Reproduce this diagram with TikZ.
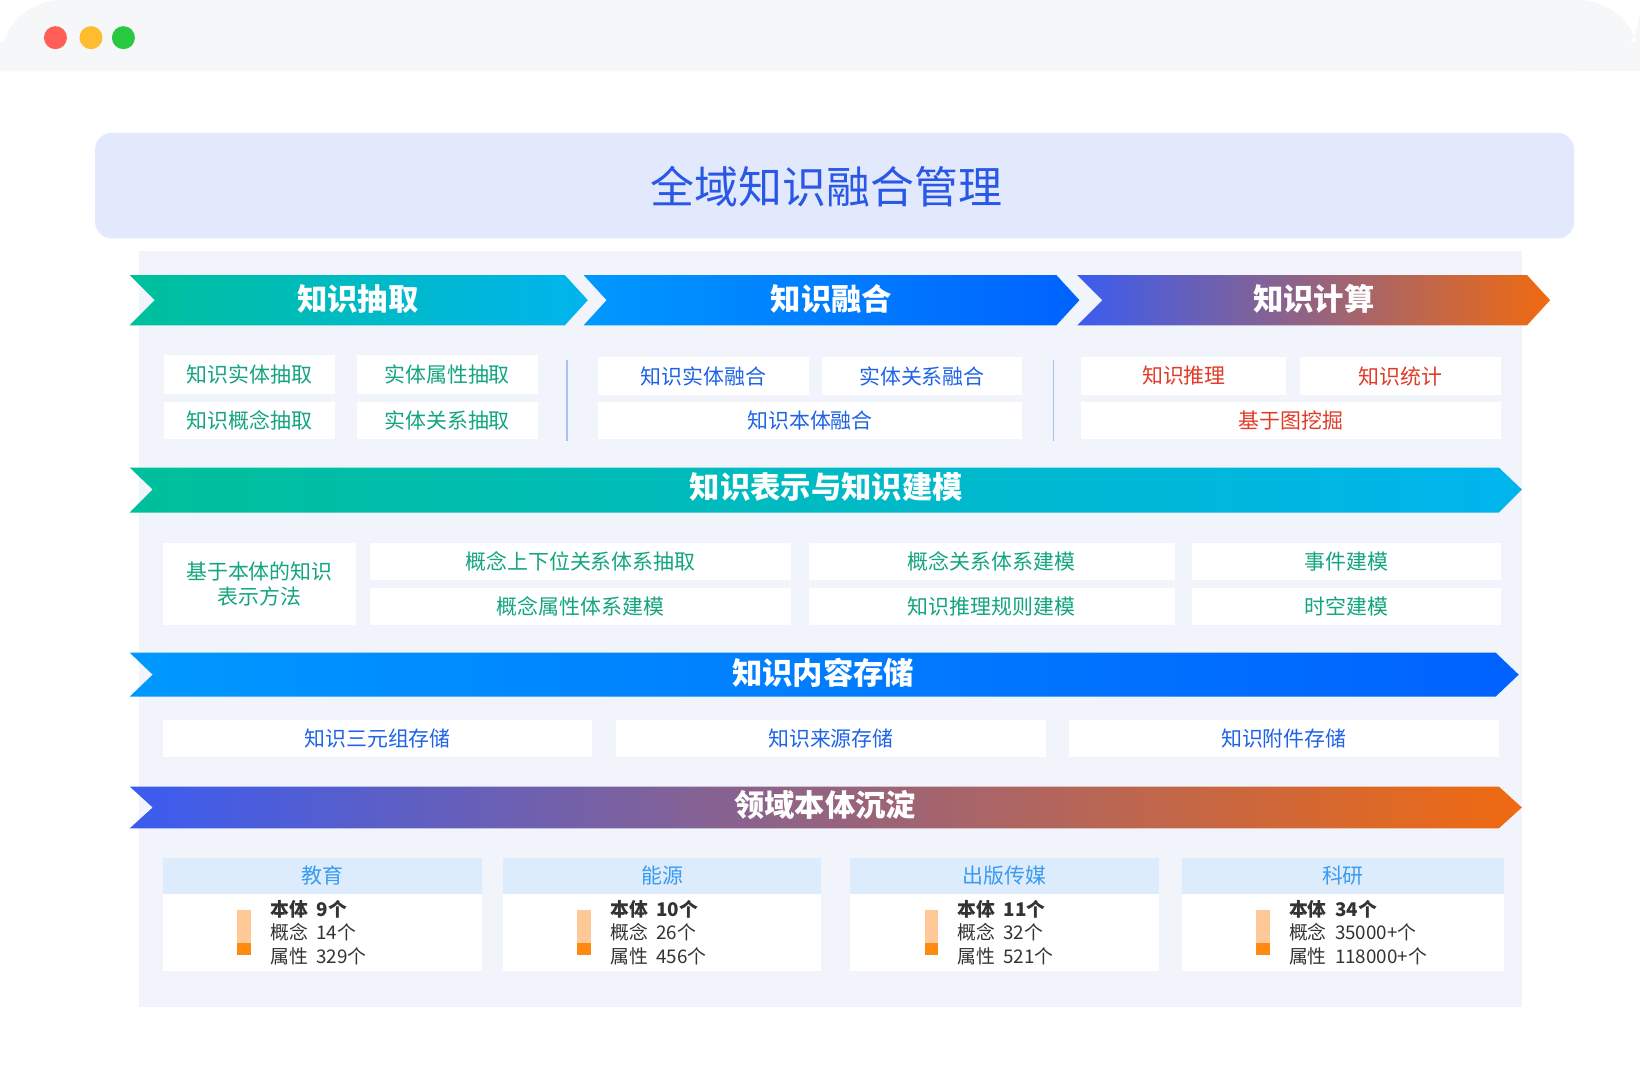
\documentclass[tikz,border=0pt]{standalone}
\usepackage{fontspec}
\setmainfont{Noto Sans CJK SC}
\begin{document}
\definecolor{gA}{HTML}{00C09A}\definecolor{cA}{HTML}{00B4EE}
\definecolor{bA}{HTML}{0098FF}\definecolor{bB}{HTML}{0062FF}
\definecolor{pA}{HTML}{3A5CF0}\definecolor{pM}{HTML}{A060C8}\definecolor{oA}{HTML}{F06A10}
\definecolor{tgreen}{HTML}{12A57E}\definecolor{tblue}{HTML}{1E63E8}\definecolor{tred}{HTML}{E23A26}
\definecolor{ttitle}{HTML}{2A58E6}\definecolor{hdr}{HTML}{DDECFD}\definecolor{hdrt}{HTML}{3A9BEF}
\definecolor{panel}{HTML}{F1F4FB}\definecolor{dark}{HTML}{333333}
\definecolor{dred}{HTML}{FF5F57}\definecolor{dyel}{HTML}{FEBC2E}\definecolor{dgrn}{HTML}{28C840}
\definecolor{divc}{HTML}{A9C1F2}\definecolor{titbg}{HTML}{E3E9FD}
\definecolor{barL}{HTML}{FFC897}\definecolor{barD}{HTML}{FF8A12}\definecolor{topbar}{HTML}{F6F7F9}
\begin{tikzpicture}[x=0.5pt,y=-0.5pt,
  sub/.style={fill=white,draw=none,font=\fontsize{10}{12}\selectfont,inner sep=0pt},
  band/.style={font=\bfseries\fontsize{14.5}{16}\selectfont,text=white},
  stat/.style={anchor=west,text=dark,font=\fontsize{9}{10}\selectfont,inner sep=0pt}]
\useasboundingbox (0,0) rectangle (1568,1033);
\fill[white] (0,0) rectangle (1568,1033);
\fill[topbar,rounded corners=30pt] (0,68) -- (0,0) -- (1568,0) -- (1568,68) [sharp corners] -- cycle;
\fill[topbar] (0,40) rectangle (1568,68);
\fill[dred] (53,36) circle (11);
\fill[dyel] (87,36) circle (11);
\fill[dgrn] (118,36) circle (11);
% panel
\fill[panel] (133,240) rectangle (1455,963);
\fill[titbg,rounded corners=8pt] (91,127) rectangle (1505,228);
\node[text=ttitle,font=\fontsize{21}{24}\selectfont] (title) at (790,178) {全域知识融合管理};
% chevrons row
\shade[left color=gA,right color=cA] (124,263) -- (540,263) -- (562,287) -- (540,311) -- (124,311) -- (148,287) -- cycle;
\shade[left color=bA,right color=bB] (558,263) -- (1010,263) -- (1032,287) -- (1010,311) -- (558,311) -- (580,287) -- cycle;
\shade[left color=pA,middle color=pM,right color=oA] (1030,263) -- (1460,263) -- (1482,287) -- (1460,311) -- (1030,311) -- (1054,287) -- cycle;
\node[band] (c1) at (342,286) {知识抽取};
\node[band] (c2) at (795,286) {知识融合};
\node[band] (c3) at (1256,286) {知识计算};
% row1 boxes
\node[sub,text=tgreen,minimum width=81.5pt,minimum height=19pt] (a1) at (238.5,358) {知识实体抽取};
\node[sub,text=tgreen,minimum width=86.5pt,minimum height=19pt] (a2) at (427.5,358) {实体属性抽取};
\node[sub,text=tgreen,minimum width=81.5pt,minimum height=18pt] (a3) at (238.5,402) {知识概念抽取};
\node[sub,text=tgreen,minimum width=86.5pt,minimum height=18pt] (a4) at (427.5,402) {实体关系抽取};
\draw[divc,line width=0.6pt] (542,344) -- (542,422);
\node[sub,text=tblue,minimum width=100.5pt,minimum height=18.5pt] (b1) at (672.5,359.5) {知识实体融合};
\node[sub,text=tblue,minimum width=95.5pt,minimum height=18.5pt] (b2) at (881.5,359.5) {实体关系融合};
\node[sub,text=tblue,minimum width=202.5pt,minimum height=18pt] (b3) at (774.5,402) {知识本体融合};
\draw[divc,line width=0.6pt] (1007,344) -- (1007,422);
\node[sub,text=tred,minimum width=98pt,minimum height=18.5pt] (r1) at (1132,359.5) {知识推理};
\node[sub,text=tred,minimum width=96pt,minimum height=18.5pt] (r2) at (1339,359.5) {知识统计};
\node[sub,text=tred,minimum width=200.5pt,minimum height=18pt] (r3) at (1234.5,402) {基于图挖掘};
% band 2
\shade[left color=gA,right color=cA] (124,447) -- (1433,447) -- (1455,468) -- (1433,490) -- (124,490) -- (146,468) -- cycle;
\node[band] (m2) at (790,466) {知识表示与知识建模};
\node[sub,text=tgreen,minimum width=92pt,minimum height=39.5pt,align=center] (k0) at (248,558.5) {基于本体的知识\\表示方法};
\node[sub,text=tgreen,minimum width=201pt,minimum height=18pt] (k1) at (555,537) {概念上下位关系体系抽取};
\node[sub,text=tgreen,minimum width=201pt,minimum height=18pt] (k2) at (555,580) {概念属性体系建模};
\node[sub,text=tgreen,minimum width=175pt,minimum height=18pt] (k3) at (948,537) {概念关系体系建模};
\node[sub,text=tgreen,minimum width=175pt,minimum height=18pt] (k4) at (948,580) {知识推理规则建模};
\node[sub,text=tgreen,minimum width=147.5pt,minimum height=18pt] (k5) at (1287.5,537) {事件建模};
\node[sub,text=tgreen,minimum width=147.5pt,minimum height=18pt] (k6) at (1287.5,580) {时空建模};
% band 3
\shade[left color=bA,right color=bB] (124,624) -- (1430,624) -- (1452,645) -- (1430,666) -- (124,666) -- (146,645) -- cycle;
\node[band] (m3) at (787,643) {知识内容存储};
\node[sub,text=tblue,minimum width=205pt,minimum height=18pt] (s1) at (361,706) {知识三元组存储};
\node[sub,text=tblue,minimum width=205.5pt,minimum height=18pt] (s2) at (794.5,706) {知识来源存储};
\node[sub,text=tblue,minimum width=205.5pt,minimum height=18pt] (s3) at (1227.5,706) {知识附件存储};
% band 4
\shade[left color=pA,middle color=pM,right color=oA] (124,752) -- (1433,752) -- (1455,772) -- (1433,792) -- (124,792) -- (146,772) -- cycle;
\node[band] (m4) at (789,770) {领域本体沉淀};
% cards
\foreach \xa/\xb/\nm/\va/\vb/\vc [count=\i] in {156/461/教育/9/14/329,481/785/能源/10/26/456,813/1108/出版传媒/11/32/521,1130/1438/科研/34/35000+/118000+}{
  \fill[white] (\xa,855) rectangle (\xb,928);
  \fill[hdr] (\xa,820) rectangle (\xb,855);
  \node[text=hdrt,font=\fontsize{10}{12}\selectfont] (h\i) at ({(\xa+\xb)/2},837) {\nm};
  \fill[barL] ({\xa+71},870) rectangle ({\xa+84},913);
  \fill[barD] ({\xa+71},902) rectangle ({\xa+84},913);
  \node[stat,font=\bfseries\fontsize{9}{10}\selectfont] (p\i) at ({\xa+102},869) {本体\ \ \va 个};
  \node[stat] (q\i) at ({\xa+102},891) {概念\ \ \vb 个};
  \node[stat] (u\i) at ({\xa+102},914) {属性\ \ \vc 个};
}
\end{tikzpicture}
\end{document}
